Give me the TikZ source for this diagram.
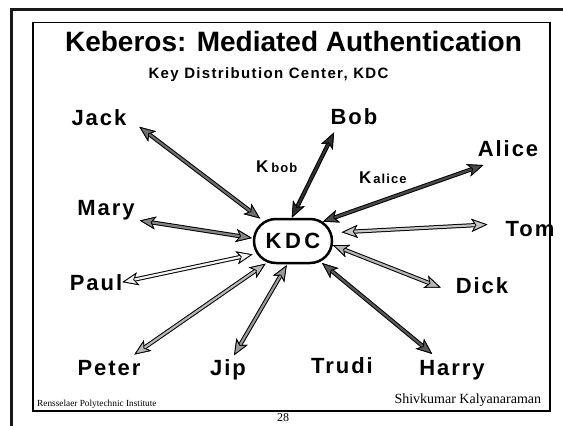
\documentclass[tikz,border=0pt]{standalone}
\usepackage{fontspec}
\setmainfont{Liberation Serif}
\setsansfont{Liberation Sans}
\newfontfamily\spacedsans{Liberation Sans}[LetterSpace=9]
\newfontfamily\widesans{Liberation Sans}[LetterSpace=16]
\newfontfamily\subsans{Liberation Sans}[LetterSpace=9]
\usetikzlibrary{arrows.meta,shapes.misc}

\begin{document}
\begin{tikzpicture}[x=1pt,y=-1pt,
    who/.style={font=\spacedsans\bfseries\fontsize{22}{22}\selectfont, anchor=base, inner sep=0pt},
    keylabel/.style={anchor=base west, inner sep=0pt, font=\sffamily\bfseries},
    link/.style={draw=#1, line width=2.2pt, preaction={draw=black, line width=4.2pt},
      >={Stealth[length=16pt,width=13pt,inset=4pt,fill=#1,color=black,line width=0.8pt]}, <->}]
    \useasboundingbox (0,0) rectangle (563,426);
    % slide frame
    \draw[line width=2.5pt, black!90] (11.5,426) -- (11.5,9.5) -- (563,9.5);
    \draw[line width=1.2pt] (33,22.7) rectangle (550,411);
    % heading
    \node[font=\sffamily\bfseries\fontsize{28}{28}\selectfont, anchor=base] (title) at (293.5,51.7) {Keberos: Mediated Authentication};
    \node[font=\subsans\bfseries\fontsize{15}{15}\selectfont, anchor=base] (sub) at (268.5,78.3) {Key Distribution Center, KDC};
    % key server
    \node[rounded rectangle, draw, line width=2.5pt, minimum width=78pt, minimum height=44pt, inner sep=0pt,
      font=\widesans\bfseries\fontsize{22}{22}\selectfont] (kdc) at (293,241) {KDC};
    % principals
    \node[who] (jack) at (99,125) {Jack};
    \node[who] (bob) at (354,124) {Bob};
    \node[who] (alice) at (508,156) {Alice};
    \node[who] (mary) at (106,215) {Mary};
    \node[who] (tom) at (530,236) {Tom};
    \node[who] (paul) at (96,290) {Paul};
    \node[who] (dick) at (482,293) {Dick};
    \node[who] (peter) at (109,375) {Peter};
    \node[who] (jip) at (228,375) {Jip};
    \node[who] (trudi) at (342,373) {Trudi};
    \node[who] (harry) at (452,375) {Harry};
    % shared keys
    \node[keylabel] (kbob) at (256,172) {{\fontsize{17}{17}\selectfont K}\hspace{3pt}{\fontsize{13}{13}\selectfont\addfontfeature{LetterSpace=8}bob}};
    \node[keylabel] (kalice) at (359,183) {{\fontsize{17}{17}\selectfont K}\hspace{2pt}{\fontsize{13}{13}\selectfont\addfontfeature{LetterSpace=8}alice}};
    % links to the KDC
    \draw[link=black!57, shorten <=16pt, shorten >=4.5pt] (jack.east) -- (kdc.146);
    \draw[link=black!81, shorten <=9pt] ([xshift=-16pt]bob.south) -- (kdc.93);
    \draw[link=black!71, shorten <=26pt] (alice.south) -- (kdc.33);
    \draw[link=black!48, shorten <=5pt, shorten >=1pt] (mary.south east) -- (kdc.176);
    \draw[link=black!5, shorten >=4pt] (paul.east) -- (kdc.199);
    \draw[link=black!28, shorten <=9pt, shorten >=2pt] ([xshift=18pt]peter.north) -- (kdc.220);
    \draw[link=black!40, shorten <=4pt, shorten >=1pt] ([xshift=4pt]jip.north) -- (kdc.256);
    \draw[link=black!22, shorten <=18pt, shorten >=10pt] ([yshift=5pt]tom.west) -- (kdc.12);
    \draw[link=black!29, shorten <=16pt] (dick.south west) -- (kdc.354);
    \draw[link=black!65, shorten <=9pt, shorten >=2pt] ([xshift=20pt]harry.north west) -- (kdc.323);
    % footer
    \node[anchor=base west, inner sep=0pt, font=\fontsize{9.3}{9.3}\selectfont] (inst) at (37,406) {Rensselaer Polytechnic Institute};
    \node[anchor=base east, inner sep=0pt, font=\fontsize{14}{14}\selectfont] (auth) at (541.3,403.3) {Shivkumar Kalyanaraman};
    \node[anchor=base, inner sep=0pt, font=\fontsize{12}{12}\selectfont] (page) at (283,421) {28};
\end{tikzpicture}
\end{document}
